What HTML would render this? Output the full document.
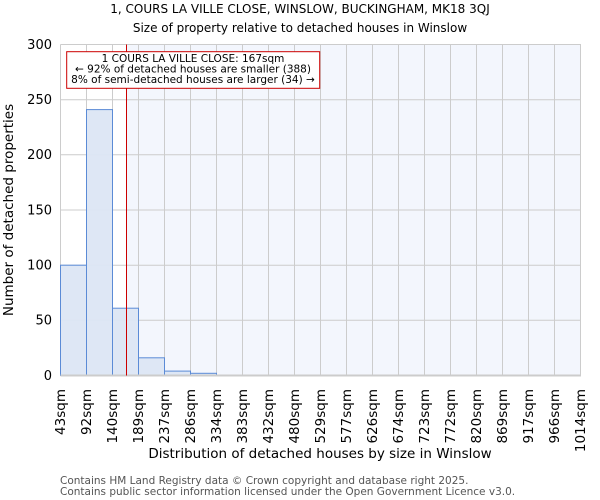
<!DOCTYPE html>
<html><head><meta charset="utf-8"><style>body{margin:0;background:#fff}svg{display:block}text{font-family:"DejaVu Sans","Liberation Sans",sans-serif}</style></head>
<body>
<svg width="600" height="500" xmlns="http://www.w3.org/2000/svg">
<text x="300" y="13" font-size="12" text-anchor="middle">1, COURS LA VILLE CLOSE, WINSLOW, BUCKINGHAM, MK18 3QJ</text>
<text x="300" y="32" font-size="12" text-anchor="middle">Size of property relative to detached houses in Winslow</text>
<rect x="126.5" y="44.5" width="454.5" height="331" fill="#f3f6fd"/>
<g stroke="#cccccc" stroke-width="1">
<line x1="60.5" x2="581" y1="44.5" y2="44.5"/><line x1="60.5" x2="581" y1="99.7" y2="99.7"/><line x1="60.5" x2="581" y1="154.8" y2="154.8"/><line x1="60.5" x2="581" y1="210" y2="210"/><line x1="60.5" x2="581" y1="265.2" y2="265.2"/><line x1="60.5" x2="581" y1="320.3" y2="320.3"/>
<line x1="60.5" x2="60.5" y1="44.5" y2="375.5"/><line x1="86.5" x2="86.5" y1="44.5" y2="375.5"/><line x1="112.5" x2="112.5" y1="44.5" y2="375.5"/><line x1="138.5" x2="138.5" y1="44.5" y2="375.5"/><line x1="164.5" x2="164.5" y1="44.5" y2="375.5"/><line x1="190.5" x2="190.5" y1="44.5" y2="375.5"/><line x1="216.5" x2="216.5" y1="44.5" y2="375.5"/><line x1="242.5" x2="242.5" y1="44.5" y2="375.5"/><line x1="268.5" x2="268.5" y1="44.5" y2="375.5"/><line x1="294.5" x2="294.5" y1="44.5" y2="375.5"/><line x1="320.5" x2="320.5" y1="44.5" y2="375.5"/><line x1="346.5" x2="346.5" y1="44.5" y2="375.5"/><line x1="372.5" x2="372.5" y1="44.5" y2="375.5"/><line x1="398.5" x2="398.5" y1="44.5" y2="375.5"/><line x1="424.5" x2="424.5" y1="44.5" y2="375.5"/><line x1="450.5" x2="450.5" y1="44.5" y2="375.5"/><line x1="476.5" x2="476.5" y1="44.5" y2="375.5"/><line x1="502.5" x2="502.5" y1="44.5" y2="375.5"/><line x1="528.5" x2="528.5" y1="44.5" y2="375.5"/><line x1="554.5" x2="554.5" y1="44.5" y2="375.5"/><line x1="580.5" x2="580.5" y1="44.5" y2="375.5"/>
</g>
<g fill="#dce6f4" fill-opacity="0.95" stroke="#5b8bd6" stroke-width="1">
<rect x="60.5" y="265.2" width="26" height="110.3"/>
<rect x="86.5" y="109.6" width="26" height="265.9"/>
<rect x="112.5" y="308.2" width="26" height="67.3"/>
<rect x="138.5" y="357.8" width="26" height="17.7"/>
<rect x="164.5" y="371.1" width="26" height="4.4"/>
<rect x="190.5" y="373.3" width="26" height="2.2"/>
</g>
<line x1="60.5" x2="581" y1="375.5" y2="375.5" stroke="#cccccc" stroke-width="2"/>
<line x1="126.5" x2="126.5" y1="44.5" y2="375.5" stroke="#cc0000" stroke-width="1"/>
<rect x="66.7" y="51.7" width="253" height="36.6" fill="#fff" stroke="#cc0000" stroke-width="1"/>
<g font-size="10.5" text-anchor="middle"><text x="193" y="62">1 COURS LA VILLE CLOSE: 167sqm</text><text x="193" y="72.5">← 92% of detached houses are smaller (388)</text><text x="193" y="83">8% of semi-detached houses are larger (34) →</text></g>
<g font-size="13" text-anchor="end"><text x="52" y="49">300</text><text x="52" y="104">250</text><text x="52" y="159">200</text><text x="52" y="214.5">150</text><text x="52" y="269.5">100</text><text x="52" y="324.5">50</text><text x="52" y="380">0</text></g>
<text transform="translate(13,210) rotate(-90)" font-size="13.5" text-anchor="middle">Number of detached properties</text>
<g font-size="13.5" text-anchor="end">
<text transform="translate(65,389) rotate(-90)">43sqm</text><text transform="translate(91,389) rotate(-90)">92sqm</text><text transform="translate(117,389) rotate(-90)">140sqm</text><text transform="translate(143,389) rotate(-90)">189sqm</text><text transform="translate(169,389) rotate(-90)">237sqm</text><text transform="translate(195,389) rotate(-90)">286sqm</text><text transform="translate(221,389) rotate(-90)">334sqm</text><text transform="translate(247,389) rotate(-90)">383sqm</text><text transform="translate(273,389) rotate(-90)">432sqm</text><text transform="translate(299,389) rotate(-90)">480sqm</text><text transform="translate(325,389) rotate(-90)">529sqm</text><text transform="translate(351,389) rotate(-90)">577sqm</text><text transform="translate(377,389) rotate(-90)">626sqm</text><text transform="translate(403,389) rotate(-90)">674sqm</text><text transform="translate(429,389) rotate(-90)">723sqm</text><text transform="translate(455,389) rotate(-90)">772sqm</text><text transform="translate(481,389) rotate(-90)">820sqm</text><text transform="translate(507,389) rotate(-90)">869sqm</text><text transform="translate(533,389) rotate(-90)">917sqm</text><text transform="translate(559,389) rotate(-90)">966sqm</text><text transform="translate(585,389) rotate(-90)">1014sqm</text>
</g>
<text x="320" y="458" font-size="13.5" text-anchor="middle">Distribution of detached houses by size in Winslow</text>
<g font-size="10.5" fill="#555"><text x="60" y="484">Contains HM Land Registry data © Crown copyright and database right 2025.</text><text x="60" y="495">Contains public sector information licensed under the Open Government Licence v3.0.</text></g>
</svg>
</body></html>
